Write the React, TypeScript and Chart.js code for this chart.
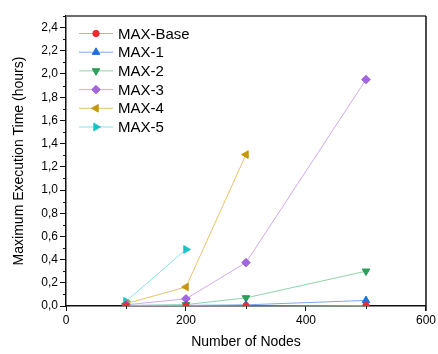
import React, { useEffect, useRef } from "react";
import { Chart, registerables } from "chart.js";

Chart.register(...registerables);

const nodes = [100, 200, 300, 500];
const seriesNames = ["MAX-Base", "MAX-1", "MAX-2", "MAX-3", "MAX-4", "MAX-5"];
const maxBase = [0.0, 0.0, 0.0, 0.003];
const max1 = [0.004, 0.005, 0.01, 0.048];
const max2 = [0.005, 0.012, 0.07, 0.3];
const max3 = [0.01, 0.062, 0.374, 1.952];
const max4 = [0.02, 0.164, 1.305];
const max5 = [0.04, 0.488];
const yTicks = [0, 0.2, 0.4, 0.6, 0.8, 1.0, 1.2, 1.4, 1.6, 1.8, 2.0, 2.2, 2.4];
const xTicks = [0, 200, 400, 600];

const lineColors = ["#f79a9a", "#7aa7ef", "#8fd3a8", "#cfaaf2", "#e8c46a", "#86e4e4"];
const markColors = ["#ee2a2f", "#1f6fe0", "#2e9e5a", "#a465e0", "#c6960c", "#19c2c6"];
const styles: any[] = ["circle", "triangle", "triangle", "rectRot", "triangle", "triangle"];
const rotations = [0, 0, 180, 0, -90, 90];
const radii = [3.2, 4.4, 4.4, 4.3, 4.4, 4.4];

const valueSets = [maxBase, max1, max2, max3, max4, max5];

const fmt = (v: number) => v.toFixed(1).replace(".", ",");

function drawMarker(ctx: CanvasRenderingContext2D, style: string, rot: number, r: number, x: number, y: number) {
  ctx.save();
  ctx.translate(x, y);
  ctx.rotate((rot * Math.PI) / 180);
  ctx.beginPath();
  if (style === "circle") {
    ctx.arc(0, 0, r, 0, Math.PI * 2);
  } else if (style === "triangle") {
    for (let k = 0; k < 3; k++) {
      const a = (k * 2 * Math.PI) / 3;
      const px = Math.sin(a) * r;
      const py = -Math.cos(a) * r;
      if (k === 0) ctx.moveTo(px, py);
      else ctx.lineTo(px, py);
    }
    ctx.closePath();
  } else if (style === "rectRot") {
    ctx.moveTo(0, -r);
    ctx.lineTo(r, 0);
    ctx.lineTo(0, r);
    ctx.lineTo(-r, 0);
    ctx.closePath();
  }
  ctx.fill();
  ctx.lineWidth = 1;
  ctx.stroke();
  ctx.restore();
}

const framePlugin = {
  id: "frameMinor",
  afterDraw(chart: any) {
    const ctx = chart.ctx;
    const { left, right, top, bottom } = chart.chartArea;
    const xs = chart.scales.x;
    const ys = chart.scales.y;
    ctx.save();
    ctx.strokeStyle = "#6e6e6e";
    ctx.lineWidth = 2;
    ctx.beginPath();
    ctx.moveTo(left, top);
    ctx.lineTo(right, top);
    ctx.stroke();
    ctx.strokeStyle = "#111";
    ctx.lineWidth = 1.5;
    ctx.beginPath();
    ctx.moveTo(right, top);
    ctx.lineTo(right, bottom + 5);
    ctx.stroke();
    ctx.strokeStyle = "#111";
    ctx.lineWidth = 1;
    ctx.beginPath();
    for (let v = 0.1; v < 2.55; v += 0.2) {
      const y = Math.round(ys.getPixelForValue(v)) + 0.5;
      ctx.moveTo(left - 3, y);
      ctx.lineTo(left, y);
    }
    for (const v of [100, 300, 500]) {
      const x = Math.round(xs.getPixelForValue(v)) + 0.5;
      ctx.moveTo(x, bottom);
      ctx.lineTo(x, bottom + 3);
    }
    ctx.stroke();
    ctx.font = "15px 'Liberation Sans', Arial, sans-serif";
    ctx.textBaseline = "middle";
    ctx.textAlign = "left";
    seriesNames.forEach((name, i) => {
      const y = 33.5 + i * 18.7;
      ctx.strokeStyle = lineColors[i];
      ctx.lineWidth = 1;
      ctx.beginPath();
      ctx.moveTo(79, y);
      ctx.lineTo(113, y);
      ctx.stroke();
      ctx.fillStyle = markColors[i];
      ctx.strokeStyle = markColors[i];
      drawMarker(ctx, styles[i], rotations[i], radii[i], 96, y);
      ctx.fillStyle = "#000";
      ctx.fillText(name, 118, y + 1);
    });
    ctx.restore();
  },
};

export default function App() {
  const ref = useRef<HTMLCanvasElement | null>(null);
  useEffect(() => {
    document.body.style.margin = "0";
    const datasets = valueSets.map((vals, i) => ({
      label: seriesNames[i],
      data: vals.map((v, j) => ({ x: nodes[j], y: v })),
      borderColor: lineColors[i],
      backgroundColor: markColors[i],
      borderWidth: 1,
      pointStyle: styles[i],
      pointRotation: rotations[i],
      pointRadius: radii[i],
      pointBackgroundColor: markColors[i],
      pointBorderColor: markColors[i],
      pointBorderWidth: 1,
      showLine: true,
      tension: 0,
    }));
    const chart = new Chart(ref.current as HTMLCanvasElement, {
      type: "scatter",
      data: { datasets },
      options: {
        animation: false,
        responsive: false,
        devicePixelRatio: 1,
        layout: { padding: { left: 0, top: 16, right: 11, bottom: 0 } },
        plugins: { legend: { display: false }, tooltip: { enabled: false } },
        scales: {
          x: {
            type: "linear",
            min: 0,
            max: 600,
            afterFit: (s: any) => { s.height = 48; },
            afterBuildTicks: (s: any) => { s.ticks = xTicks.map((v) => ({ value: v })); },
            ticks: {
              color: "#000",
              font: { size: 12, family: "'Liberation Sans', Arial, sans-serif" },
              padding: 2,
              maxRotation: 0,
              callback: (v: any) => String(v),
            },
            grid: { display: true, drawOnChartArea: false, drawTicks: true, tickLength: 5, color: "#111", lineWidth: 1 },
            border: { display: true, color: "#111", width: 1.5 },
            title: {
              display: true,
              text: "Number of Nodes",
              color: "#000",
              font: { size: 14, family: "'Liberation Sans', Arial, sans-serif" },
              padding: { top: 0, bottom: 3 },
            },
          },
          y: {
            type: "linear",
            min: 0,
            max: 2.5,
            afterFit: (s: any) => { s.width = 66; },
            afterBuildTicks: (s: any) => { s.ticks = yTicks.map((v) => ({ value: v })); },
            ticks: {
              color: "#000",
              font: { size: 12, family: "'Liberation Sans', Arial, sans-serif" },
              padding: 2,
              callback: (v: any) => fmt(Number(v)),
            },
            grid: { display: true, drawOnChartArea: false, drawTicks: true, tickLength: 6, color: "#111", lineWidth: 1 },
            border: { display: true, color: "#111", width: 1.5 },
            title: {
              display: true,
              text: "Maximum Execution Time (hours)",
              color: "#000",
              font: { size: 14, family: "'Liberation Sans', Arial, sans-serif" },
              padding: { top: 11, bottom: 0 },
            },
          },
        },
      },
      plugins: [framePlugin],
    } as any);
    return () => chart.destroy();
  }, []);
  return <canvas ref={ref} width={438} height={354} style={{ display: "block" }} />;
}
